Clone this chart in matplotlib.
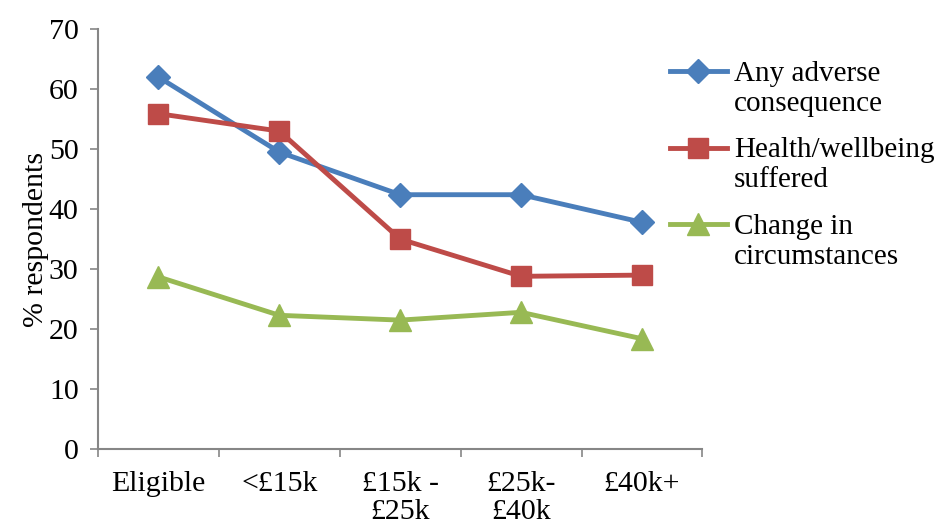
import matplotlib
matplotlib.use('Agg')
import matplotlib.pyplot as plt
from matplotlib.legend_handler import HandlerLine2D
import numpy as np

plt.rcParams['font.family'] = ['Liberation Serif', 'DejaVu Serif']

# 收入分组与三个系列（%）
categories = ['Eligible', '<£15k', '£15k -\n£25k', '£25k-\n£40k', '£40k+']
any_adverse = [62.0, 49.5, 42.4, 42.4, 37.8]
health_suffered = [55.9, 53.0, 35.0, 28.8, 29.0]
change_circ = [28.7, 22.3, 21.5, 22.8, 18.4]
series_labels = ['Any adverse\nconsequence', 'Health/wellbeing\nsuffered',
                 'Change in\ncircumstances']


class TopLineHandler(HandlerLine2D):
    # 图例符号对齐到两行标签的第一行
    def create_artists(self, legend, orig_handle, xdescent, ydescent,
                       width, height, fontsize, trans):
        arts = super().create_artists(legend, orig_handle, xdescent, ydescent,
                                      width, height, fontsize, trans)
        for a in arts:
            a.set_ydata(np.asarray(a.get_ydata()) + 0.6 * fontsize)
        return arts


fig = plt.figure(figsize=(9.34, 5.29), dpi=100)
ax = fig.add_axes([0.105, 0.151, 0.647, 0.794])

x = np.arange(len(categories))
l1, = ax.plot(x, any_adverse, color='#4A7EBB', lw=3.5, marker='D', markersize=12.5,
              label=series_labels[0])
l2, = ax.plot(x, health_suffered, color='#BE4B48', lw=3.5, marker='s', markersize=14,
              label=series_labels[1])
l3, = ax.plot(x, change_circ, color='#98B954', lw=3.5, marker='^', markersize=16,
              label=series_labels[2])

ax.set_xlim(-0.5, len(categories) - 0.5)
ax.set_ylim(0, 70)
ax.set_yticks(range(0, 71, 10))
ax.set_xticks(x)
ax.set_xticklabels(categories, fontsize=21.5, linespacing=1.1)
ax.set_xticks(np.arange(-0.5, len(categories), 1), minor=True)
ax.tick_params(axis='x', which='major', length=0, pad=16)
ax.tick_params(axis='x', which='minor', length=6, width=1.2, color='#868686')
ax.tick_params(axis='y', length=6, width=1.2, color='#868686', labelsize=21.5, pad=8)

for s in ['top', 'right']:
    ax.spines[s].set_visible(False)
for s in ['left', 'bottom']:
    ax.spines[s].set_color('#868686')
    ax.spines[s].set_linewidth(1.5)

ax.set_ylabel('% respondents', fontsize=21.5, labelpad=0)

leg = fig.legend(handles=[l1, l2, l3], loc='upper left',
                 bbox_to_anchor=(0.717, 0.885), frameon=False, fontsize=21,
                 borderpad=0, borderaxespad=0,
                 handlelength=1.95, handletextpad=0.25, labelspacing=0.7,
                 handler_map={matplotlib.lines.Line2D: TopLineHandler()})
for t in leg.get_texts():
    t.set_linespacing(1.2)

fig.savefig('out.png', dpi=100)
